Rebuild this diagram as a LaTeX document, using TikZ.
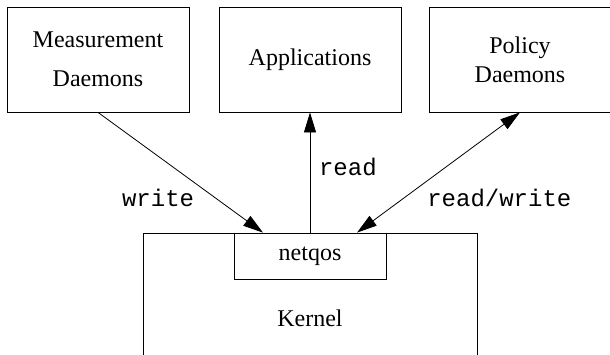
\documentclass[tikz,border=0pt]{standalone}
\usepackage{fontspec}
\setmainfont{Liberation Serif}
\setmonofont{Liberation Mono}
\usetikzlibrary{arrows.meta,positioning}

\tikzset{
  unit/.style={draw, minimum width=91pt, minimum height=52.5pt, align=center,
    font=\fontsize{12}{14.4}\selectfont},
  flow/.style={-{Triangle[length=10pt,width=6pt]}},
  biflow/.style={{Triangle[length=10pt,width=6pt]}-{Triangle[length=10pt,width=6pt]}},
  op/.style={font=\ttfamily\fontsize{12}{14}\selectfont}
}

\begin{document}
\begin{tikzpicture}[x=0.5pt,y=-0.5pt]
  \clip (0,0) rectangle (610,354);

  \node[unit] (meas) at (98,59.5) {Measurement\\[5pt]Daemons};
  \node[unit] (apps) at (310,59.5) {Applications};
  \node[unit] (policy) at (520,59.5) {Policy\\Daemons};

  \node[draw, minimum width=167pt, minimum height=85pt,
        font=\fontsize{12}{14}\selectfont] (kernel) at (310,318) {Kernel};
  \node[draw, fill=white, minimum width=76pt, minimum height=23pt,
        font=\fontsize{12}{14}\selectfont] (netqos) at (310,256) {netqos};

  \draw[flow] (meas.south) -- node[op, pos=.71, left=7pt] {write}
    ([xshift=-23.5pt]netqos.north);
  \draw[flow] (netqos.north) -- node[op, pos=.55, right=1pt] {read} (apps.south);
  \draw[biflow] (policy.south)
    -- node[op, pos=.71, right=8pt] {read/write} ([xshift=23.5pt]netqos.north);
\end{tikzpicture}
\end{document}
